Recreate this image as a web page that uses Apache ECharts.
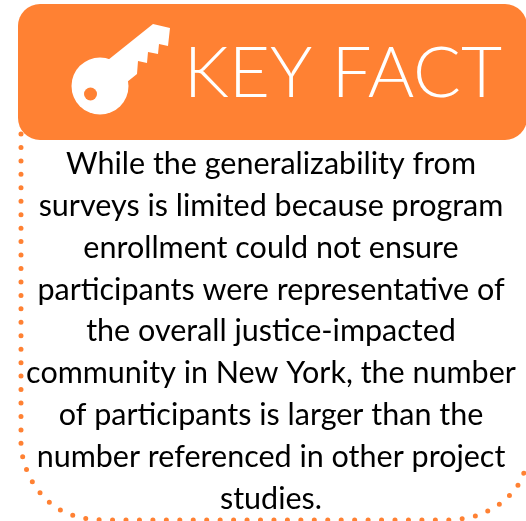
<!DOCTYPE html>
<html>
<head>
<meta charset="utf-8">
<style>
html,body{margin:0;padding:0;background:#fff;}
#main{width:526px;height:521px;}
</style>
<script src="https://cdn.jsdelivr.net/npm/echarts@6/dist/echarts.min.js"></script>
</head>
<body>
<div id="main"></div>
<script>
var titleText = "KEY FACT";
var bodyLines = [
  "While the generalizability from",
  "surveys is limited because program",
  "enrollment could not ensure",
  "participants were representative of",
  "the overall justice-impacted",
  "community in New York, the number",
  "of participants is larger than the",
  "number referenced in other project",
  "studies."
];
var orange = "#ff8133";
var fontName = "Lato";

var chart = echarts.init(document.getElementById("main"), null, {renderer: "canvas"});

var elements = [
  // dotted outline, round caps on a zero dash make the dots
  {
    type: "polyline",
    shape: {points: [[21,134],[21,432],[21,445],[23,459],[27,471],[33,483],[41,494],[51,504],[62,511],[75,516],[88,519],[101,520],[453,520],[467,518],[480,515],[492,509],[503,502],[513,492],[521,481],[526,467]]},
    style: {fill: null, stroke: orange, lineWidth: 5, lineCap: "round", lineDash: [0, 13.45]}
  },
  {
    type: "rect",
    shape: {x: 18, y: 4, width: 509, height: 136, r: 22},
    style: {fill: orange}
  },
  // key
  {type: "circle", shape: {cx: 100, cy: 86, r: 28.5}, style: {fill: "#fff"}},
  {
    type: "polygon",
    shape: {points: [[108,60],[153,24],[170,28],[168,46],[159,44],[158,54],[148,52],[147,63],[138,61],[137,74],[122,86]]},
    style: {fill: "#fff"}
  },
  {type: "circle", shape: {cx: 90.5, cy: 94, r: 6.5}, style: {fill: orange}},
  {
    type: "text",
    style: {x: 343, y: 74, text: titleText, fill: "#fff", font: "300 71px " + fontName, textAlign: "center", textVerticalAlign: "middle"}
  }
];

for (var i = 0; i < bodyLines.length; i++) {
  elements.push({
    type: "text",
    style: {x: 271, y: 164 + i * 41.9, text: bodyLines[i], fill: "#000", font: "30.5px " + fontName, textAlign: "center", textVerticalAlign: "middle"}
  });
}

chart.setOption({
  animation: false,
  graphic: {elements: elements}
});
</script>
</body>
</html>
